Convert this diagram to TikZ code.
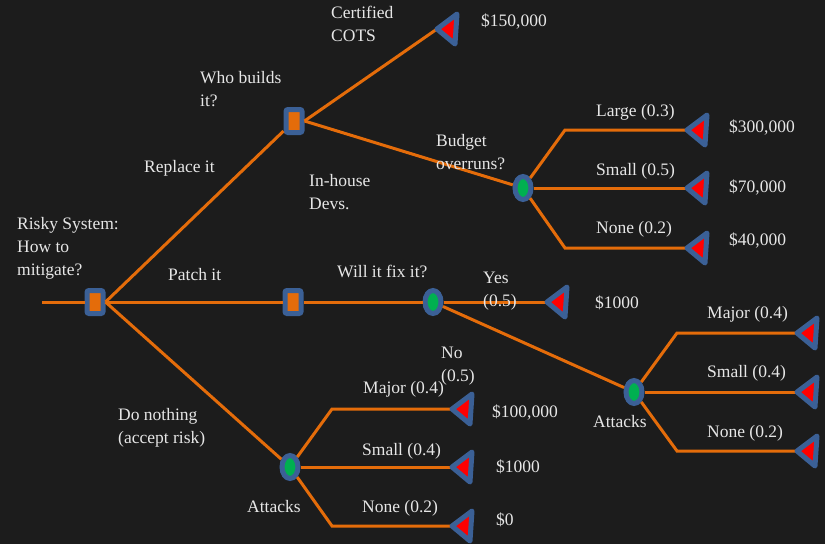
\documentclass[tikz,border=0pt]{standalone}
\usepackage{fontspec}
\setmainfont{Liberation Serif}
\usetikzlibrary{positioning,shapes.geometric}

\definecolor{bgdark}{HTML}{1C1C1C}
\definecolor{branch}{HTML}{E46C0A}
\definecolor{rim}{HTML}{3B6096}
\definecolor{chancefill}{HTML}{00B050}
\definecolor{inktext}{HTML}{E6E6E6}

\tikzset{
 decision/.style={draw=rim, fill=branch, line width=5pt, rounded corners=2pt,
   minimum width=16pt, minimum height=23pt, inner sep=0pt},
 chance/.style={ellipse, draw=rim, fill=chancefill, line width=5pt,
   minimum width=16pt, minimum height=23pt, inner sep=0pt},
 payoff/.pic={\filldraw[draw=rim, fill=red, line width=5pt, line join=round]
   (0,0) -- (20,15) -- (18,-15) -- cycle;},
 txt/.style={text=inktext, anchor=base west, inner sep=0pt, align=left,
   font=\fontsize{17.5}{23}\selectfont},
 branchline/.style={draw=branch, line width=3pt},
}

\begin{document}
\begin{tikzpicture}[x=1pt, y=1pt, on grid]
 \useasboundingbox (0,0) rectangle (825,-544);
 \fill[bgdark] (0,0) rectangle (825,-544);
 % tree nodes
 \node[decision] (root) at (95,-302) {};
 \coordinate[left=53pt of root] (start);
 \node[decision, above right=181pt and 199pt of root] (build) {};
 \node[decision, right=198pt of root] (patch) {};
 \node[chance, right=140pt of patch] (fix) {};
 \node[chance, below right=67pt and 229pt of build] (overrun) {};
 \node[chance, below right=90pt and 201pt of fix] (attackA) {};
 \node[chance, below right=165pt and 195pt of root] (attackB) {};
 % end points
 \coordinate[above right=92pt and 143pt of build] (cots);
 \coordinate[above right=58pt and 164pt of overrun] (large);
 \coordinate[right=164pt of overrun] (small);
 \coordinate[below right=60pt and 164pt of overrun] (none);
 \coordinate[right=114pt of fix] (yes);
 \coordinate[above right=59pt and 163pt of attackA] (majorA);
 \coordinate[right=163pt of attackA] (smallA);
 \coordinate[below right=59pt and 163pt of attackA] (noneA);
 \coordinate[above right=58pt and 162pt of attackB] (majorB);
 \coordinate[right=162pt of attackB] (smallB);
 \coordinate[below right=59pt and 162pt of attackB] (noneB);

 \draw[branchline] (start) -- (root);
 \draw[branchline] (root.east) -- (build);
 \draw[branchline] (root.east) -- (patch) -- (fix) -- (yes);
 \draw[branchline] (root.east) -- (attackB);
 \draw[branchline] (build.east) -- (cots);
 \draw[branchline] (build.east) -- (overrun);
 \draw[branchline] (fix) -- (attackA);
 \draw[branchline] (overrun) -- ++(42,58) -- (large);
 \draw[branchline] (overrun) -- (small);
 \draw[branchline] (overrun) -- ++(42,-60) -- (none);
 \draw[branchline] (attackA) -- ++(43,59) -- (majorA);
 \draw[branchline] (attackA) -- (smallA);
 \draw[branchline] (attackA) -- ++(43,-59) -- (noneA);
 \draw[branchline] (attackB) -- ++(42,58) -- (majorB);
 \draw[branchline] (attackB) -- (smallB);
 \draw[branchline] (attackB) -- ++(42,-59) -- (noneB);

 \foreach \tip in {cots,large,small,none,yes,majorA,smallA,noneA,majorB,smallB,noneB}
  \pic at (\tip) {payoff};

 % labels (multi-line ones sit on their last baseline)
 \node[txt] (question) at (17,-275) {Risky System:\\How to\\mitigate?};
 \node[txt] (replace) at (144,-172) {Replace it};
 \node[txt] (patchit) at (168,-280) {Patch it};
 \node[txt] (nothing) at (118,-443) {Do nothing\\(accept risk)};
 \node[txt] (who) at (200,-106) {Who builds\\it?};
 \node[txt] (certified) at (331,-41) {Certified\\COTS};
 \node[txt] (inhouse) at (309,-209) {In-house\\Devs.};
 \node[txt] (budget) at (436,-169) {Budget\\overruns?};
 \node[txt] (willfix) at (337,-277) {Will it fix it?};
 \node[txt] (yeslbl) at (483,-306) {Yes\\(0.5)};
 \node[txt] (nolbl) at (441,-381) {No\\(0.5)};
 \node[txt] (v150) at (481,-26) {\$150,000};
 \node[txt] (largelbl) at (596,-116) {Large (0.3)};
 \node[txt] (smalllbl) at (596,-175) {Small (0.5)};
 \node[txt] (nonelbl) at (596,-233) {None (0.2)};
 \node[txt] (v300) at (729,-132) {\$300,000};
 \node[txt] (v70) at (729,-192) {\$70,000};
 \node[txt] (v40) at (729,-245) {\$40,000};
 \node[txt] (v1k) at (595,-308) {\$1000};
 \node[txt] (majorAlbl) at (707,-318) {Major (0.4)};
 \node[txt] (smallAlbl) at (707,-377) {Small (0.4)};
 \node[txt] (noneAlbl) at (707,-437) {None (0.2)};
 \node[txt] (attAlbl) at (593,-427) {Attacks};
 \node[txt] (majorBlbl) at (363,-393) {Major (0.4)};
 \node[txt] (smallBlbl) at (362,-455) {Small (0.4)};
 \node[txt] (noneBlbl) at (362,-512) {None (0.2)};
 \node[txt] (attBlbl) at (247,-512) {Attacks};
 \node[txt] (v100k) at (492,-417) {\$100,000};
 \node[txt] (v1kB) at (496,-472) {\$1000};
 \node[txt] (v0) at (496,-525) {\$0};
\end{tikzpicture}
\end{document}
